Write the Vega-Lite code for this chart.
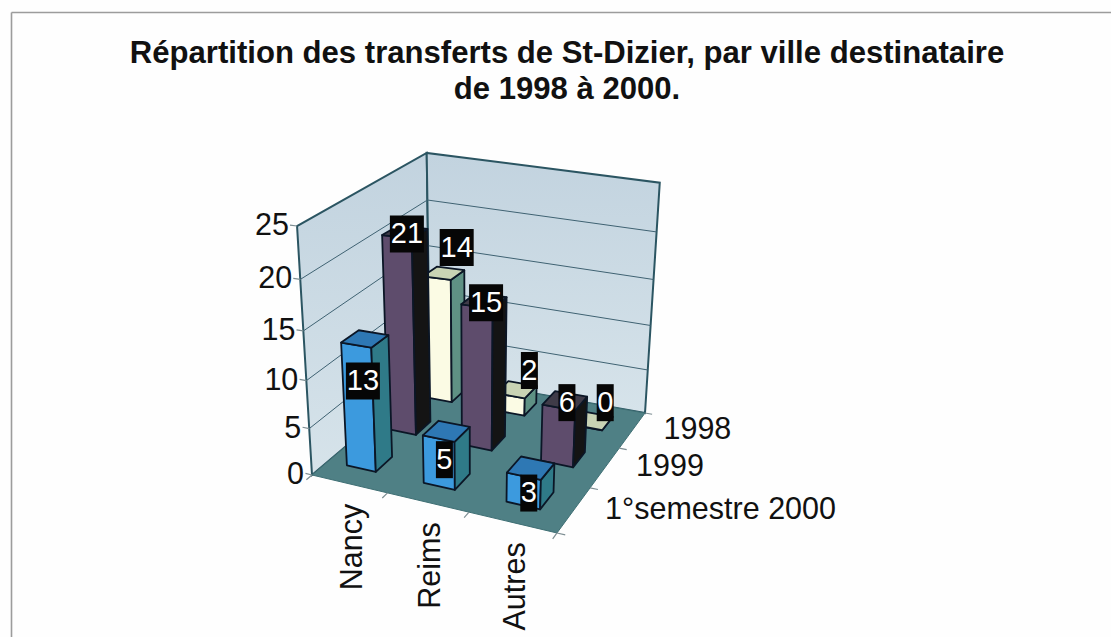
{
"$schema":"https://vega.github.io/schema/vega-lite/v6.json",
"width":1100,"height":625,"padding":{"left":11,"top":12,"right":0,"bottom":0},"autosize":{"type":"none"},
"background":"#fefefe",
"config":{"view":{"stroke":null},"font":"Liberation Sans"},
"title":{"text":["Répartition des transferts de St-Dizier, par ville destinataire","de 1998 à 2000."],"anchor":"middle","frame":"group","dx":6,"offset":-93,"font":"Liberation Sans","fontWeight":"bold","fontSize":31.1,"lineHeight":36,"color":"#111111"},
"datasets":{
"bars":[
{"ville":"Nancy","periode":"1998","valeur":14},{"ville":"Reims","periode":"1998","valeur":2},{"ville":"Autres","periode":"1998","valeur":0},
{"ville":"Nancy","periode":"1999","valeur":21},{"ville":"Reims","periode":"1999","valeur":15},{"ville":"Autres","periode":"1999","valeur":6},
{"ville":"Nancy","periode":"1°semestre 2000","valeur":13},{"ville":"Reims","periode":"1°semestre 2000","valeur":5},{"ville":"Autres","periode":"1°semestre 2000","valeur":3}
],
"faces":[
{"face":"gauche","corner":0,"u":0,"w":0,"v":0},{"face":"gauche","corner":1,"u":0,"w":1,"v":0},{"face":"gauche","corner":2,"u":0,"w":1,"v":25},{"face":"gauche","corner":3,"u":0,"w":0,"v":25},
{"face":"fond","corner":0,"u":0,"w":1,"v":0},{"face":"fond","corner":1,"u":1,"w":1,"v":0},{"face":"fond","corner":2,"u":1,"w":1,"v":25},{"face":"fond","corner":3,"u":0,"w":1,"v":25}
],
"floor":[
{"corner":0,"u":0,"w":0,"v":0},{"corner":1,"u":1,"w":0,"v":0},{"corner":2,"u":1,"w":1,"v":0},{"corner":3,"u":0,"w":1,"v":0}
],
"grid":[
{"niveau":5,"corner":0,"u":0,"w":0},{"niveau":5,"corner":1,"u":0,"w":1},{"niveau":5,"corner":2,"u":1,"w":1},
{"niveau":10,"corner":0,"u":0,"w":0},{"niveau":10,"corner":1,"u":0,"w":1},{"niveau":10,"corner":2,"u":1,"w":1},
{"niveau":15,"corner":0,"u":0,"w":0},{"niveau":15,"corner":1,"u":0,"w":1},{"niveau":15,"corner":2,"u":1,"w":1},
{"niveau":20,"corner":0,"u":0,"w":0},{"niveau":20,"corner":1,"u":0,"w":1},{"niveau":20,"corner":2,"u":1,"w":1}
],
"ticks":[
{"axe":"v","u":0,"w":0,"v":0},{"axe":"v","u":0,"w":0,"v":5},{"axe":"v","u":0,"w":0,"v":10},{"axe":"v","u":0,"w":0,"v":15},{"axe":"v","u":0,"w":0,"v":20},{"axe":"v","u":0,"w":0,"v":25},
{"axe":"c","u":0,"w":0,"v":0},{"axe":"c","u":0.3333,"w":0,"v":0},{"axe":"c","u":0.6667,"w":0,"v":0},{"axe":"c","u":1,"w":0,"v":0},
{"axe":"p","u":1,"w":0,"v":0},{"axe":"p","u":1,"w":0.3333,"v":0},{"axe":"p","u":1,"w":0.6667,"v":0},{"axe":"p","u":1,"w":1,"v":0}
],
"vlabels":[{"t":"0","v":0},{"t":"5","v":5},{"t":"10","v":10},{"t":"15","v":15},{"t":"20","v":20},{"t":"25","v":25}],
"clabels":[{"t":"Nancy","u":0.1667},{"t":"Reims","u":0.5},{"t":"Autres","u":0.8333}],
"plabels":[{"t":"1°semestre 2000","w":0.1667},{"t":"1999","w":0.5},{"t":"1998","w":0.8333}]
},
"encoding":{
"x":{"field":"sx","type":"quantitative","scale":{"domain":[11,1111],"nice":false,"zero":false},"axis":{"orient":"top","title":null,"labels":false,"ticks":false,"grid":false,"domainColor":"#9c9c9c","domainWidth":1.6}},
"y":{"field":"sy","type":"quantitative","scale":{"domain":[637,12],"nice":false,"zero":false},"axis":{"orient":"left","title":null,"labels":false,"ticks":false,"grid":false,"domainColor":"#9c9c9c","domainWidth":1.6}}
},
"layer":[
{"data":{"name":"faces"},
"transform":[
{"calculate":"(312+184.6*datum.u+197.1*datum.w-40.2*datum.v/25)/(1-0.1084*datum.u+0.1839*datum.w-0.085*datum.v/25)","as":"sx"},
{"calculate":"(475+0.2*datum.u-31*datum.w-268.2*datum.v/25)/(1-0.1084*datum.u+0.1839*datum.w-0.085*datum.v/25)+datum.w*datum.v/25*(-7+12*datum.u)","as":"sy"}],
"mark":{"type":"line","interpolate":"linear-closed","stroke":"#2b5562","strokeWidth":2,"fill":{"x1":0,"y1":0,"x2":0,"y2":1,"gradient":"linear","stops":[{"offset":0,"color":"#c2d3df"},{"offset":1,"color":"#d6e3ea"}]}},
"encoding":{"detail":{"field":"face"},"order":{"field":"corner"}}},
{"data":{"name":"grid"},
"transform":[{"calculate":"datum.niveau","as":"v"},
{"calculate":"(312+184.6*datum.u+197.1*datum.w-40.2*datum.v/25)/(1-0.1084*datum.u+0.1839*datum.w-0.085*datum.v/25)","as":"sx"},
{"calculate":"(475+0.2*datum.u-31*datum.w-268.2*datum.v/25)/(1-0.1084*datum.u+0.1839*datum.w-0.085*datum.v/25)+datum.w*datum.v/25*(-7+12*datum.u)","as":"sy"}],
"mark":{"type":"line","stroke":"#3f6272","strokeWidth":1},
"encoding":{"detail":{"field":"niveau"},"order":{"field":"corner"}}},
{"data":{"name":"floor"},
"transform":[
{"calculate":"(312+184.6*datum.u+197.1*datum.w-40.2*datum.v/25)/(1-0.1084*datum.u+0.1839*datum.w-0.085*datum.v/25)","as":"sx"},
{"calculate":"(475+0.2*datum.u-31*datum.w-268.2*datum.v/25)/(1-0.1084*datum.u+0.1839*datum.w-0.085*datum.v/25)","as":"sy"}],
"mark":{"type":"line","interpolate":"linear-closed","stroke":"#3f6f74","strokeWidth":1,"fill":"#4f8085"},
"encoding":{"order":{"field":"corner"}}},
{"data":{"name":"ticks"},
"transform":[
{"calculate":"datum.axe=='p'?datum.u+0.03:(datum.axe=='v'?datum.u-0.03:datum.u)","as":"u2"},
{"calculate":"datum.axe=='c'?datum.w-0.04:datum.w","as":"w2"},
{"calculate":"(312+184.6*datum.u+197.1*datum.w-40.2*datum.v/25)/(1-0.1084*datum.u+0.1839*datum.w-0.085*datum.v/25)","as":"sx"},
{"calculate":"(475+0.2*datum.u-31*datum.w-268.2*datum.v/25)/(1-0.1084*datum.u+0.1839*datum.w-0.085*datum.v/25)","as":"sy"},
{"calculate":"(312+184.6*datum.u2+197.1*datum.w2-40.2*datum.v/25)/(1-0.1084*datum.u2+0.1839*datum.w2-0.085*datum.v/25)","as":"sx2"},
{"calculate":"(475+0.2*datum.u2-31*datum.w2-268.2*datum.v/25)/(1-0.1084*datum.u2+0.1839*datum.w2-0.085*datum.v/25)","as":"sy2"}],
"mark":{"type":"rule","stroke":"#7c8d92","strokeWidth":1.2},
"encoding":{"x2":{"field":"sx2"},"y2":{"field":"sy2"}}},
{"data":{"name":"bars"},
"transform":[
{"calculate":"indexof(['Nancy','Reims','Autres'],datum.ville)","as":"i"},
{"calculate":"indexof(['1°semestre 2000','1999','1998'],datum.periode)","as":"j"},
{"calculate":"0.15+0.3375*datum.i-0.065","as":"u0"},{"calculate":"0.15+0.3375*datum.i+0.065","as":"u1"},
{"calculate":"0.185+0.3325*datum.j-0.065","as":"w0"},{"calculate":"0.185+0.3325*datum.j+0.065","as":"w1"},
{"calculate":"['avant','cote','dessus']","as":"face"},{"flatten":["face"]},
{"calculate":"[0,1,2,3]","as":"corner"},{"flatten":["corner"]},
{"calculate":"datum.face=='avant'?((datum.corner==0||datum.corner==3)?datum.u0:datum.u1):(datum.face=='cote'?datum.u1:((datum.corner==0||datum.corner==3)?datum.u0:datum.u1))","as":"u"},
{"calculate":"datum.face=='avant'?datum.w0:((datum.face=='cote')?((datum.corner==0||datum.corner==3)?datum.w0:datum.w1):(datum.corner<2?datum.w0:datum.w1))","as":"w"},
{"calculate":"datum.face=='dessus'?datum.valeur:(datum.corner<2?0:datum.valeur)","as":"v"},
{"calculate":"datum.periode+'/'+datum.face","as":"teinte"},
{"calculate":"datum.ville+'/'+datum.periode+'/'+datum.face","as":"cle"},
{"calculate":"(312+184.6*datum.u+197.1*datum.w-40.2*datum.v/25)/(1-0.1084*datum.u+0.1839*datum.w-0.085*datum.v/25)","as":"sx"},
{"calculate":"(475+0.2*datum.u-31*datum.w-268.2*datum.v/25)/(1-0.1084*datum.u+0.1839*datum.w-0.085*datum.v/25)","as":"sy"}],
"mark":{"type":"line","interpolate":"linear-closed","stroke":"#0b1626","strokeWidth":1.8,"strokeJoin":"round"},
"encoding":{"detail":{"field":"cle"},"order":{"field":"corner"},
"fill":{"field":"teinte","type":"nominal","legend":null,"scale":{
"domain":["1998/avant","1998/cote","1998/dessus","1999/avant","1999/cote","1999/dessus","1°semestre 2000/avant","1°semestre 2000/cote","1°semestre 2000/dessus"],
"range":["#fbfbe4","#5f9184","#c9d3b4","#5e4c6c","#141414","#3f3b48","#3c9ade","#2f7a88","#2e78b4"]}}}},
{"data":{"name":"bars"},
"transform":[
{"calculate":"indexof(['Nancy','Reims','Autres'],datum.ville)","as":"i"},
{"calculate":"indexof(['1°semestre 2000','1999','1998'],datum.periode)","as":"j"},
{"calculate":"0.15+0.3375*datum.i","as":"u"},{"calculate":"0.185+0.3325*datum.j","as":"w"},{"calculate":"datum.valeur","as":"v"},
{"calculate":"((312+184.6*datum.u+197.1*datum.w-40.2*datum.v/25)/(1-0.1084*datum.u+0.1839*datum.w-0.085*datum.v/25))+(datum.j==2?13:(datum.j==1?2:-2))","as":"sx"},
{"calculate":"((475+0.2*datum.u-31*datum.w-268.2*datum.v/25)/(1-0.1084*datum.u+0.1839*datum.w-0.085*datum.v/25))+(datum.j==2?-18-0.55*datum.v:(datum.j==1?2:20+1.7*datum.v))","as":"sy"},
{"calculate":"datum.sx-8.5*length(''+datum.valeur)","as":"bx"},{"calculate":"datum.sx+8.5*length(''+datum.valeur)","as":"bx2"},
{"calculate":"datum.sy-18.5","as":"by"},{"calculate":"datum.sy+18.5","as":"by2"}],
"mark":{"type":"rect","fill":"#060606"},
"encoding":{"x":{"field":"bx"},"x2":{"field":"bx2"},"y":{"field":"by"},"y2":{"field":"by2"}}},
{"data":{"name":"bars"},
"transform":[
{"calculate":"indexof(['Nancy','Reims','Autres'],datum.ville)","as":"i"},
{"calculate":"indexof(['1°semestre 2000','1999','1998'],datum.periode)","as":"j"},
{"calculate":"0.15+0.3375*datum.i","as":"u"},{"calculate":"0.185+0.3325*datum.j","as":"w"},{"calculate":"datum.valeur","as":"v"},
{"calculate":"((312+184.6*datum.u+197.1*datum.w-40.2*datum.v/25)/(1-0.1084*datum.u+0.1839*datum.w-0.085*datum.v/25))+(datum.j==2?13:(datum.j==1?2:-2))","as":"sx"},
{"calculate":"((475+0.2*datum.u-31*datum.w-268.2*datum.v/25)/(1-0.1084*datum.u+0.1839*datum.w-0.085*datum.v/25))+(datum.j==2?-18-0.55*datum.v:(datum.j==1?2:20+1.7*datum.v))","as":"sy"}],
"mark":{"type":"text","color":"#ffffff","fontSize":29,"font":"Liberation Sans","baseline":"middle","align":"center"},
"encoding":{"text":{"field":"valeur","type":"quantitative"}}},
{"data":{"name":"vlabels"},
"transform":[
{"calculate":"(312-40.2*datum.v/25)/(1-0.085*datum.v/25)","as":"sx"},
{"calculate":"(475-268.2*datum.v/25)/(1-0.085*datum.v/25)","as":"sy"}],
"mark":{"type":"text","align":"right","baseline":"middle","dx":-8,"fontSize":30.5,"font":"Liberation Sans","color":"#111111"},
"encoding":{"text":{"field":"t"}}},
{"data":{"name":"clabels"},
"transform":[
{"calculate":"(312+184.6*datum.u)/(1-0.1084*datum.u)","as":"sx"},
{"calculate":"(475+0.2*datum.u)/(1-0.1084*datum.u)","as":"sy"}],
"mark":{"type":"text","align":"right","baseline":"middle","angle":270,"dx":-20,"dy":4,"fontSize":30.5,"font":"Liberation Sans","color":"#111111"},
"encoding":{"text":{"field":"t"}}},
{"data":{"name":"plabels"},
"transform":[
{"calculate":"(312+184.6+197.1*datum.w)/(1-0.1084+0.1839*datum.w)","as":"sx"},
{"calculate":"(475+0.2-31*datum.w)/(1-0.1084+0.1839*datum.w)","as":"sy"}],
"mark":{"type":"text","align":"left","baseline":"middle","dx":31,"fontSize":30.5,"font":"Liberation Sans","color":"#111111"},
"encoding":{"text":{"field":"t"}}}
]
}
